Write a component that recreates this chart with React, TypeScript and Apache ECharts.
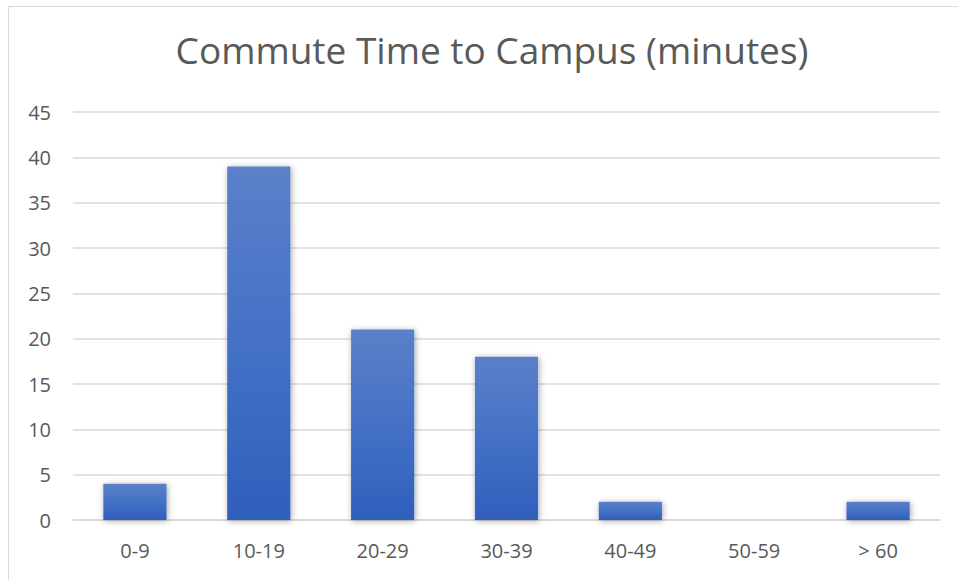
import React, { useEffect, useRef } from "react";
import * as echarts from "echarts";

const categories = ["0-9", "10-19", "20-29", "30-39", "40-49", "50-59", "> 60"];
const counts = [4, 39, 21, 18, 2, 0, 2];
const yTicks = { min: 0, max: 45, interval: 5 };
const titleText = "Commute Time to Campus (minutes)";

export default function App() {
  const ref = useRef<HTMLDivElement>(null);
  useEffect(() => {
    if (!ref.current) return;
    const chart = echarts.init(ref.current, null, { renderer: "svg" });
    const font = "Open Sans, Liberation Sans, sans-serif";
    chart.setOption({
      animation: false,
      backgroundColor: "#ffffff",
      title: {
        text: titleText,
        left: 487,
        textAlign: "center",
        top: 26,
        textStyle: { fontFamily: font, fontSize: 37, fontWeight: "normal", color: "#595959" },
      },
      graphic: [
        {
          type: "rect",
          shape: { x: 8.5, y: 6.5, width: 980, height: 600 },
          style: { fill: "none", stroke: "#d9d9d9", lineWidth: 1 },
          silent: true,
        },
      ],
      grid: { left: 73, right: 18, top: 112, bottom: 60, containLabel: false },
      xAxis: {
        type: "category",
        data: categories,
        axisLine: { show: true, lineStyle: { color: "#d9d9d9", width: 1.5 } },
        axisTick: { show: false },
        axisLabel: { fontFamily: font, fontSize: 20, color: "#595959", margin: 20 },
      },
      yAxis: {
        type: "value",
        min: yTicks.min,
        max: yTicks.max,
        interval: yTicks.interval,
        axisLine: { show: false },
        axisTick: { show: false },
        splitLine: { lineStyle: { color: "#d9d9d9", width: 1.5 } },
        axisLabel: { fontFamily: font, fontSize: 20, color: "#595959", margin: 22 },
      },
      series: [
        {
          type: "bar",
          data: counts,
          barWidth: "51%",
          itemStyle: {
            color: new echarts.graphic.LinearGradient(0, 0, 0, 1, [
              { offset: 0, color: "#5b80c9" },
              { offset: 0.5, color: "#4471c6" },
              { offset: 1, color: "#2f5fbb" },
            ]),
            shadowColor: "rgba(0,0,0,0.35)",
            shadowBlur: 6,
            shadowOffsetX: 1,
            shadowOffsetY: 1,
          },
        },
      ],
    });
    return () => chart.dispose();
  }, []);
  return (
    <div
      ref={ref}
      style={{ position: "fixed", left: 0, top: 0, width: 958, height: 580 }}
    />
  );
}
